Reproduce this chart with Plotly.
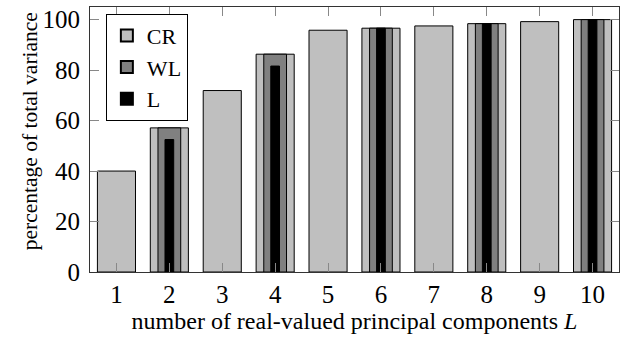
import plotly.graph_objects as go

categories = [1, 2, 3, 4, 5, 6, 7, 8, 9, 10]
cr_values = [40.0, 57.1, 71.9, 86.3, 95.8, 96.6, 97.5, 98.4, 99.2, 100.0]
wl_categories = [2, 4, 6, 8, 10]
wl_values = [57.1, 86.3, 96.6, 98.4, 100.0]
l_categories = [2, 4, 6, 8, 10]
l_values = [52.5, 81.6, 96.6, 98.4, 100.0]
y_ticks = [0, 20, 40, 60, 80, 100]

FONT = "Liberation Serif, Times New Roman, serif"

fig = go.Figure()
fig.add_trace(go.Bar(x=categories, y=cr_values, name="CR", width=0.72,
                     marker=dict(color="#bfbfbf", line=dict(color="black", width=1))))
fig.add_trace(go.Bar(x=wl_categories, y=wl_values, name="WL", width=0.43,
                     marker=dict(color="#808080", line=dict(color="black", width=1))))
fig.add_trace(go.Bar(x=l_categories, y=l_values, name="L", width=0.165,
                     marker=dict(color="#000000", line=dict(color="black", width=1))))

fig.update_layout(
    width=633, height=338,
    margin=dict(l=90, r=14, t=7, b=66, autoexpand=False),
    barmode="overlay",
    plot_bgcolor="white", paper_bgcolor="white",
    font=dict(family=FONT, size=24, color="black"),
    legend=dict(x=0.03, y=0.975, xanchor="left", yanchor="top",
                bordercolor="black", borderwidth=1, bgcolor="white",
                font=dict(family=FONT, size=22), tracegroupgap=0,
                itemsizing="constant"),
    xaxis=dict(range=[0.5, 10.5], tickvals=categories, ticktext=[str(c) for c in categories],
               showgrid=False, zeroline=False, showline=True, linecolor="#333", linewidth=1,
               mirror="ticks", ticks="inside", ticklen=9, tickcolor="#888", automargin=False,
               tickfont=dict(size=25),
               title=dict(text="number of real-valued principal components <i>L</i>",
                          font=dict(family=FONT, size=24), standoff=0)),
    yaxis=dict(range=[0, 105], tickvals=y_ticks, showgrid=False, zeroline=False,
               showline=True, linecolor="#333", linewidth=1, automargin=False,
               mirror="ticks", ticks="inside", ticklen=9, tickcolor="#888",
               tickfont=dict(size=25), ticklabelstandoff=4),
    annotations=[dict(text="percentage of total variance", textangle=-90,
                      xref="paper", yref="paper", x=-0.113, y=0.532,
                      xanchor="center", yanchor="middle", showarrow=False,
                      font=dict(family=FONT, size=21.5, color="black"))],
)

fig.write_html("out.html", config={"displayModeBar": False},
               post_script="document.body.style.margin='0px';")
